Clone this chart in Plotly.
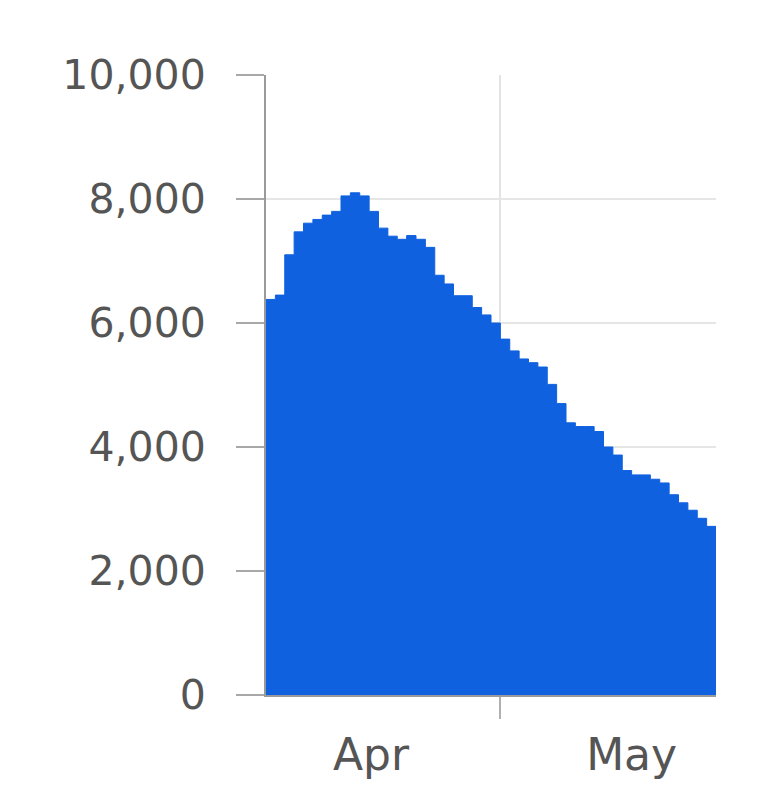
import pandas as pd
import plotly.graph_objects as go

# Daily values, 6 Apr - 23 May
start_date = "2020-04-06"
end_date = "2020-05-24"
values = [
    6380, 6450, 7100, 7470, 7610, 7670, 7740, 7800, 8050, 8100,
    8050, 7800, 7530, 7400, 7350, 7410, 7350, 7220, 6770, 6630,
    6440, 6440, 6250, 6130, 6000, 5740, 5550, 5420, 5360, 5290,
    5010, 4700, 4390, 4330, 4330, 4250, 4000, 3870, 3620, 3550,
    3550, 3480, 3420, 3230, 3100, 2980, 2850, 2720,
]
dates = pd.date_range(start_date, periods=len(values), freq="D")

# Month labels and month boundary
month_label_pos = ["2020-04-17 05:00", "2020-05-15 00:00"]
month_labels = ["Apr", "May"]
month_bounds = ["2020-05-01"]

y_ticks = [0, 2000, 4000, 6000, 8000, 10000]

blue = "#0f61df"

# step area: last step runs to the end of the range
x_step = list(dates) + [pd.Timestamp(end_date)]
y_step = values + [values[-1]]

fig = go.Figure()
fig.add_trace(go.Scatter(
    x=x_step,
    y=y_step,
    mode="lines",
    line=dict(shape="hv", color=blue, width=1),
    fill="tozeroy",
    fillcolor=blue,
    hoverinfo="skip",
))

# page body has an 8px margin, so the margins are shifted by that much
fig.update_layout(
    width=772,
    height=812,
    margin=dict(l=258, r=64, t=67, b=125),
    paper_bgcolor="white",
    plot_bgcolor="white",
    showlegend=False,
    font=dict(family="DejaVu Sans", color="#444444"),
    xaxis=dict(
        type="date",
        range=[start_date, end_date],
        tickmode="array",
        tickvals=month_label_pos,
        ticktext=month_labels,
        ticks="",
        showgrid=False,
        tickfont=dict(size=44, color="#555555"),
        ticklabelstandoff=20,
        showline=True,
        linecolor="#9a9a9a",
        linewidth=2,
        minor=dict(
            tickmode="array",
            tickvals=month_bounds,
            ticks="outside",
            ticklen=22,
            tickwidth=2,
            tickcolor="#b0b0b0",
            showgrid=True,
            gridcolor="#e4e4e4",
            gridwidth=2,
        ),
        zeroline=False,
        fixedrange=True,
    ),
    yaxis=dict(
        range=[0, 10000],
        tickmode="array",
        tickvals=y_ticks,
        tickformat=",",
        tickfont=dict(size=41, color="#555555"),
        ticks="outside",
        ticklen=28,
        tickwidth=2,
        tickcolor="#a8a8a8",
        ticklabelstandoff=22,
        showgrid=True,
        gridcolor="#e6e6e6",
        gridwidth=2,
        showline=True,
        linecolor="#9a9a9a",
        linewidth=2,
        zeroline=False,
        fixedrange=True,
    ),
)

fig.write_html("out.html")
